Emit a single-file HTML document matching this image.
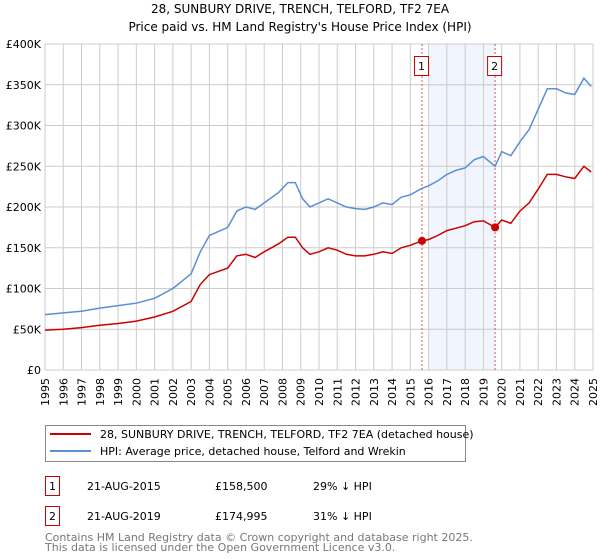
<!DOCTYPE html>
<html><head><meta charset="utf-8"><style>
body{margin:0;background:#fff;font-family:"Liberation Sans","DejaVu Sans",sans-serif;}
svg{display:block}
</style></head><body>
<svg id="c" width="600" height="560" viewBox="0 0 600 560" xmlns="http://www.w3.org/2000/svg" font-family="DejaVu Sans, Liberation Sans, sans-serif">
<text x="300" y="13" text-anchor="middle" font-size="12">28, SUNBURY DRIVE, TRENCH, TELFORD, TF2 7EA</text>
<text x="300" y="31" text-anchor="middle" font-size="12">Price paid vs. HM Land Registry's House Price Index (HPI)</text>
<g id="grid"></g><g id="marks"></g><g id="axes"></g>
<g>
<rect x="45.5" y="425.5" width="420" height="36" fill="#fff" stroke="#888"/>
<line x1="50" y1="434" x2="91" y2="434" stroke="#cc0000" stroke-width="2"/>
<text x="100" y="438" font-size="11">28, SUNBURY DRIVE, TRENCH, TELFORD, TF2 7EA (detached house)</text>
<line x1="50" y1="451" x2="91" y2="451" stroke="#5b8fd4" stroke-width="2"/>
<text x="100" y="455" font-size="11">HPI: Average price, detached house, Telford and Wrekin</text>
</g>
<g font-size="11">
<rect x="45.5" y="476.5" width="14" height="19" fill="#fff" stroke="#cc0000"/><text x="52.5" y="490" text-anchor="middle">1</text>
<text x="87" y="490">21-AUG-2015</text><text x="215" y="490">£158,500</text><text x="313" y="490">29% ↓ HPI</text>
<rect x="45.5" y="506.5" width="14" height="19" fill="#fff" stroke="#cc0000"/><text x="52.5" y="520" text-anchor="middle">2</text>
<text x="87" y="520">21-AUG-2019</text><text x="215" y="520">£174,995</text><text x="313" y="520">31% ↓ HPI</text>
</g>
<text x="45" y="541" font-size="11" fill="#777">Contains HM Land Registry data © Crown copyright and database right 2025.</text>
<text x="45" y="551" font-size="11" fill="#777">This data is licensed under the Open Government Licence v3.0.</text>
</svg>
<script>
const hpiYears=[1995,1996,1997,1998,1999,2000,2001,2002,2003,2003.5,2004,2005,2005.5,2006,2006.5,2007,2007.8,2008.3,2008.7,2009.1,2009.5,2010,2010.5,2011,2011.5,2012,2012.5,2013,2013.5,2014,2014.5,2015,2015.64,2016,2016.5,2017,2017.5,2018,2018.5,2019,2019.64,2020,2020.5,2021,2021.5,2022,2022.5,2023,2023.5,2024,2024.5,2024.9];
const hpiValues=[68,70,72,76,79,82,88,100,118,145,165,175,195,200,197,205,218,230,230,210,200,205,210,205,200,198,197,200,205,203,212,215,223,226,232,240,245,248,258,262,250,268,263,280,295,320,345,345,340,338,358,348];
const priceValues=[49,50,52,55,57,60,65,72,84,105,117,125,140,142,138,145,155,163,163,150,142,145,150,147,142,140,140,142,145,143,150,153,158.5,160,165,171,174,177,182,183,175,184,180,195,205,222,240,240,237,235,250,243];
const saleYears=[2015.64,2019.64];
const saleValues=[158.5,174.995];
const yTicks=[0,50,100,150,200,250,300,350,400];
const yTickLabels=["£0","£50K","£100K","£150K","£200K","£250K","£300K","£350K","£400K"];
const xTicks=[1995,1996,1997,1998,1999,2000,2001,2002,2003,2004,2005,2006,2007,2008,2009,2010,2011,2012,2013,2014,2015,2016,2017,2018,2019,2020,2021,2022,2023,2024,2025];
const L=45,R=593,T=44,B=370;
const X=y=>L+(y-1995)/30*(R-L);
const Y=v=>B-v/400*(B-T);
const NS="http://www.w3.org/2000/svg";
function mk(tag,attrs,parent,txt){const e=document.createElementNS(NS,tag);for(const k in attrs)e.setAttribute(k,attrs[k]);if(txt!=null)e.textContent=txt;document.getElementById(parent).appendChild(e);return e;}
// shaded band
const band=mk('rect',{x:X(2016),y:T,width:X(saleYears[1])-X(2016),height:B-T,fill:'#eef3fc',opacity:0.8},'grid');


xTicks.forEach(t=>{const l=mk('line',{x1:X(t),y1:T,x2:X(t),y2:B,stroke:'#ccc'},'grid');


const tx=mk('text',{x:0,y:0,transform:`translate(${X(t)+4},${B+8}) rotate(-90)`,'text-anchor':'end','font-size':11},'axes',String(t));

});
yTicks.forEach((t,i)=>{const l=mk('line',{x1:L,y1:Y(t),x2:R,y2:Y(t),stroke:'#ccc'},'grid');


const tx=mk('text',{x:L-4,y:Y(t)+4,'text-anchor':'end','font-size':11},'axes',yTickLabels[i]);

});
saleYears.forEach((s,i)=>{const l=mk('line',{x1:X(s),y1:T,x2:X(s),y2:B,stroke:'#e05060','stroke-dasharray':'2,2'},'marks');


const r=mk('rect',{x:X(s)-7.5,y:56.5,width:14,height:19,fill:'#fff',stroke:'#cc0000'},'marks');


mk('text',{x:X(s)-0.5,y:70,'text-anchor':'middle','font-size':11},'marks',String(i+1));});
function path(vals,color,name){const d=hpiYears.map((y,i)=>(i?'L':'M')+X(y).toFixed(1)+','+Y(vals[i]).toFixed(1)).join('');
const p=mk('path',{d:d,fill:'none',stroke:color,'stroke-width':1.5},'marks');

}
path(hpiValues,'#5b8fd4','hpi-line');
path(priceValues,'#cc0000','price-paid-line');
saleYears.forEach((s,i)=>{const c=mk('circle',{cx:X(s),cy:Y(saleValues[i]),r:4,fill:'#cc0000'},'marks');

});
</script>
</body></html>
